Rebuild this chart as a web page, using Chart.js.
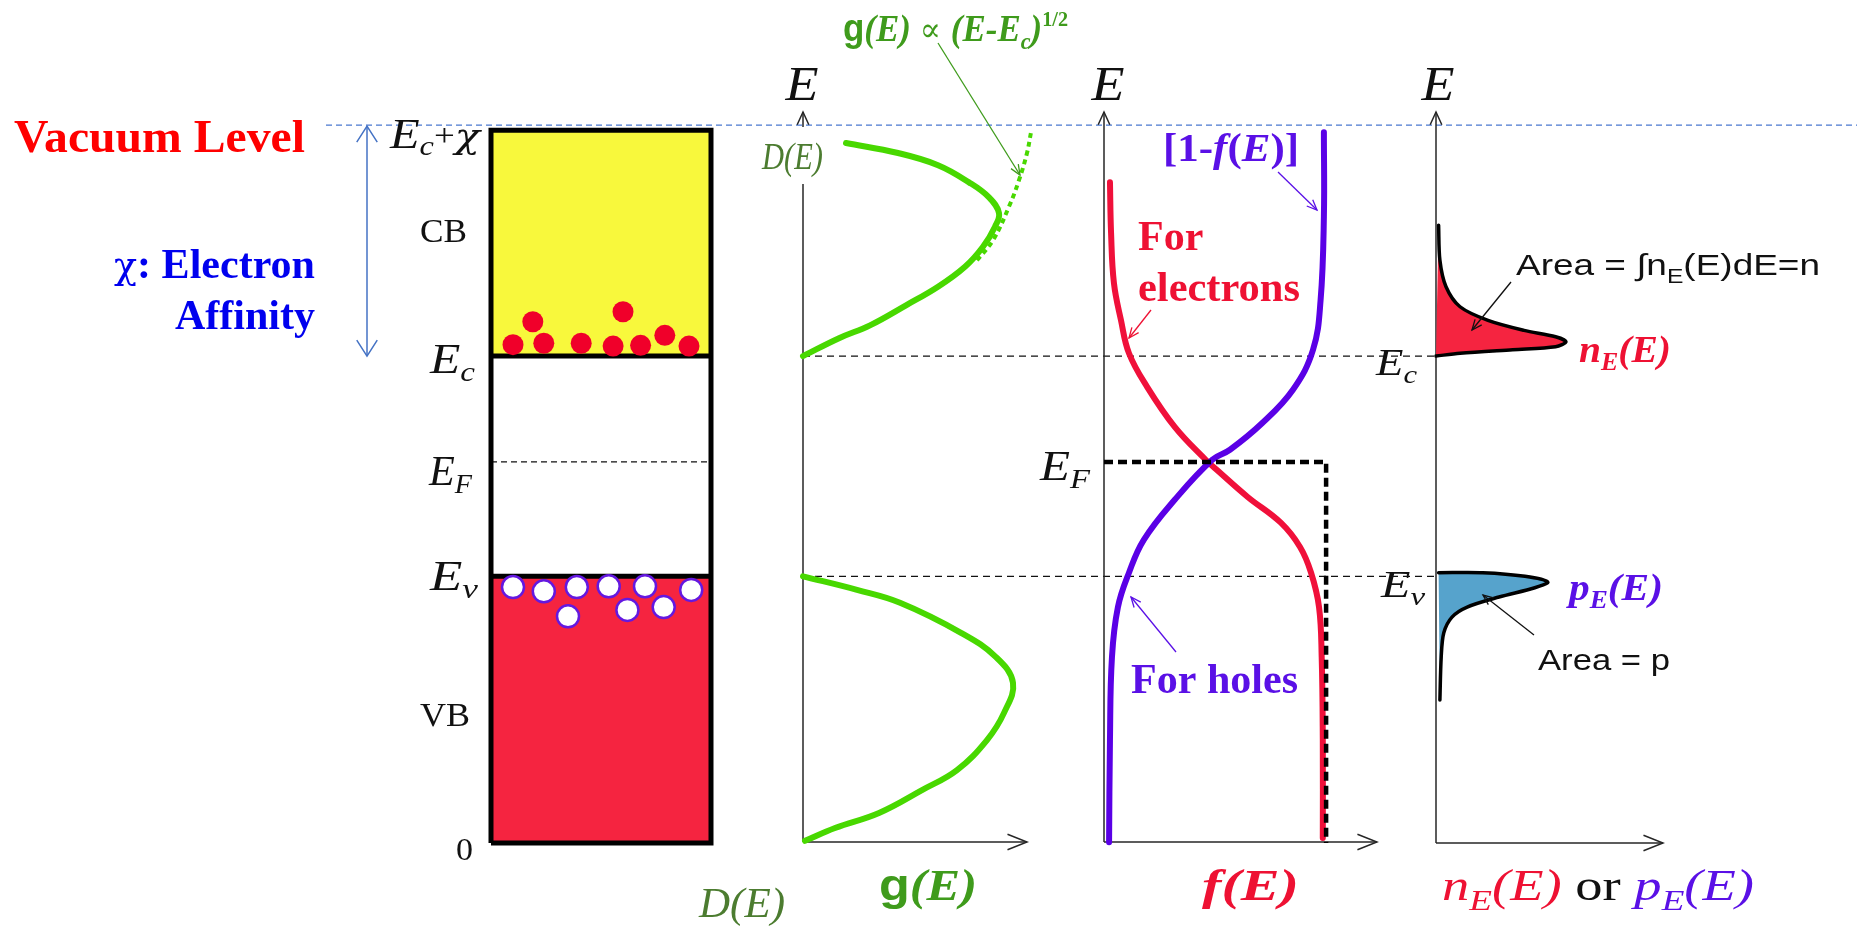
<!DOCTYPE html>
<html>
<head>
<meta charset="utf-8">
<title>Band diagram, g(E), f(E) and carrier distributions</title>
<script src="https://cdn.jsdelivr.net/npm/chart.js@4.4.1/dist/chart.umd.min.js"></script>
<style>
  html, body { margin: 0; padding: 0; background: #fff; }
  #chart { display: block; }
</style>
</head>
<body>
<canvas id="chart" width="1857" height="926"></canvas>
<script>
// energy levels (arbitrary units, 0 = bottom of the valence band)
const levelNames = ["0", "Ev", "EF", "Ec", "Ec+chi"];
const levelEnergies = [0, 3.73, 5.33, 6.81, 9.97];
const [E0, EV, EF, EC, ETOP] = levelEnergies;

// carriers drawn in the band box (x runs 0..1 across the box)
const electronX = [0.10, 0.19, 0.24, 0.41, 0.555, 0.60, 0.68, 0.79, 0.90];
const electronE = [6.97, 7.29, 6.99, 6.99, 6.95, 7.43, 6.96, 7.10, 6.95];
const holeX = [0.10, 0.24, 0.39, 0.535, 0.70, 0.91, 0.35, 0.62, 0.785];
const holeE = [3.58, 3.52, 3.58, 3.59, 3.59, 3.54, 3.17, 3.26, 3.30];

// density of states g(E)
const gCbE = [6.81, 7.06, 7.24, 7.52, 7.78, 8.06, 8.34, 8.62, 8.81, 9.03, 9.24, 9.48, 9.65, 9.79];
const gCbVal = [0, 0.18, 0.335, 0.515, 0.675, 0.81, 0.90, 0.96, 0.98, 0.93, 0.83, 0.675, 0.475, 0.215];
const gVbE = [3.73, 3.54, 3.36, 2.94, 2.60, 2.24, 1.82, 1.44, 1.02, 0.74, 0.42, 0.21, 0.03];
const gVbVal = [0, 0.27, 0.485, 0.79, 0.965, 1.05, 1.005, 0.92, 0.77, 0.595, 0.38, 0.16, 0.01];
const sqrtE = [8.15, 8.43, 8.90, 9.27, 9.65, 9.94];
const sqrtVal = [0.87, 0.95, 1.03, 1.08, 1.12, 1.14];

// Fermi function f(E) and 1-f(E)
const fE = [9.24, 8.53, 7.83, 7.31, 6.85, 6.38, 5.82, 5.36, 5.22, 4.84, 4.48, 4.14, 3.78, 3.30, 2.60, 1.44, 0.07];
const fVal = [0.027, 0.032, 0.045, 0.077, 0.113, 0.195, 0.32, 0.46, 0.51, 0.65, 0.80, 0.887, 0.937, 0.973, 0.985, 0.99, 0.99];
const hE = [9.94, 8.76, 7.59, 6.90, 6.34, 5.87, 5.50, 5.36, 4.80, 4.24, 3.78, 3.30, 2.60, 1.44, 0.01];
const hVal = [0.995, 0.995, 0.98, 0.946, 0.855, 0.715, 0.57, 0.49, 0.32, 0.18, 0.113, 0.063, 0.036, 0.027, 0.023];
const stepE = [EF, EF, 0];
const stepVal = [0, 1.005, 1.005];

// carrier distributions nE(E), pE(E)
const nE = [8.64, 8.15, 7.78, 7.50, 7.31, 7.17, 7.08, 7.01, 6.94, 6.90, 6.85, 6.81];
const nVal = [0.02, 0.03, 0.077, 0.185, 0.40, 0.677, 0.92, 1.0, 0.92, 0.59, 0.185, 0.0];
const pE = [3.78, 3.78, 3.73, 3.65, 3.57, 3.44, 3.30, 3.16, 2.94, 2.60, 2.00];
const pVal = [0.02, 0.36, 0.685, 0.86, 0.76, 0.485, 0.24, 0.123, 0.06, 0.04, 0.03];

const W = 1857, H = 926;
const BASE_Y = 843, PX_PER_E = 71.5;
const SERIF = '"Liberation Serif", "Times New Roman", serif';
const GREEK = '"DejaVu Serif", serif';
const SANS = '"Liberation Sans", Arial, sans-serif';
const RED = "#ee1133", VIOLET = "#5a10e6", GREEN = "#48d800", GTXT = "#3f9b1c", DGREEN = "#4c7c30";

function pts(xs, es) {
  return xs.map((v, i) => ({ x: v, y: es[i] }));
}
function xScale(origin, unit) {
  return { type: "linear", axis: "x", display: false, min: -origin / unit, max: (W - origin) / unit };
}

function seg(ctx, x1, y1, x2, y2) {
  ctx.beginPath();
  ctx.moveTo(x1, y1);
  ctx.lineTo(x2, y2);
  ctx.stroke();
}
// open arrow head, tip at (x,y)
function chevron(ctx, x, y, ang, len, spread) {
  ctx.beginPath();
  ctx.moveTo(x - len * Math.cos(ang - spread), y - len * Math.sin(ang - spread));
  ctx.lineTo(x, y);
  ctx.lineTo(x - len * Math.cos(ang + spread), y - len * Math.sin(ang + spread));
  ctx.stroke();
}
function pointer(ctx, x1, y1, x2, y2, color) {
  ctx.strokeStyle = color;
  ctx.lineWidth = 1.3;
  seg(ctx, x1, y1, x2, y2);
  chevron(ctx, x2, y2, Math.atan2(y2 - y1, x2 - x1), 11, 0.4);
}
function R(text, font, color, dy) {
  return { text: text, font: font, color: color, dy: dy || 0 };
}
// draws a row of text runs, optionally squeezed to a width
function drawRuns(ctx, runs, x, y, align, width) {
  let total = 0;
  runs.forEach((r) => {
    ctx.font = r.font;
    r.w = ctx.measureText(r.text).width;
    total += r.w;
  });
  const sx = width ? width / total : 1;
  let start = x;
  if (align === "right") start = x - total * sx;
  if (align === "center") start = x - (total * sx) / 2;
  ctx.save();
  ctx.translate(start, y);
  ctx.scale(sx, 1);
  ctx.textAlign = "left";
  ctx.textBaseline = "alphabetic";
  let cx = 0;
  runs.forEach((r) => {
    ctx.font = r.font;
    ctx.fillStyle = r.color;
    ctx.fillText(r.text, cx, r.dy);
    cx += r.w;
  });
  ctx.restore();
}

const decorations = {
  id: "decorations",
  beforeDatasetsDraw(chart) {
    const ctx = chart.ctx, s = chart.scales;
    const Y = (e) => s.y.getPixelForValue(e);
    const gx = s.xg.getPixelForValue(0), fx = s.xf.getPixelForValue(0), nx = s.xn.getPixelForValue(0);
    const by = Y(0) - 1;
    ctx.save();
    ctx.lineCap = "butt";
    // vacuum level
    ctx.strokeStyle = "#4a78d0";
    ctx.lineWidth = 1.3;
    ctx.setLineDash([6, 4]);
    seg(ctx, 326, Y(ETOP) - 5, W, Y(ETOP) - 5);
    // Ec and Ev guides
    ctx.strokeStyle = "#111";
    ctx.lineWidth = 1.2;
    ctx.setLineDash([7, 5]);
    [EC, EV].forEach((e) => seg(ctx, gx, Y(e), nx, Y(e)));
    ctx.setLineDash([]);
    // axes
    ctx.strokeStyle = "#262626";
    ctx.lineWidth = 1.5;
    seg(ctx, gx, 112, gx, 127);
    seg(ctx, gx, 184, gx, by);
    seg(ctx, fx, 112, fx, by);
    seg(ctx, nx, 112, nx, Y(0));
    [gx, fx, nx].forEach((x) => chevron(ctx, x, 112, -Math.PI / 2, 14, 0.43));
    const ends = [[gx, s.xg.getPixelForValue(1.12), by], [fx, s.xf.getPixelForValue(1.235), by], [nx, s.xn.getPixelForValue(1.746), Y(0)]];
    ends.forEach(([x1, x2, y]) => {
      seg(ctx, x1, y, x2, y);
      chevron(ctx, x2, y, 0, 21, 0.38);
    });
    // electron affinity arrow
    ctx.strokeStyle = "#4472c4";
    ctx.lineWidth = 1.5;
    seg(ctx, 367, Y(ETOP) - 4, 367, Y(EC));
    chevron(ctx, 367, Y(ETOP) - 4, -Math.PI / 2, 19, 0.57);
    chevron(ctx, 367, Y(EC), Math.PI / 2, 19, 0.57);
    ctx.restore();
  },
  afterDatasetsDraw(chart) {
    const ctx = chart.ctx;
    const it = (size) => "italic " + size + "px " + SERIF;
    const bi = (size) => "bold italic " + size + "px " + SERIF;
    const bd = (size) => "bold " + size + "px " + SERIF;
    const K = "#111";
    const B = "#0000ee";
    ctx.save();
    // left side
    drawRuns(ctx, [R("Vacuum Level", bd(47), "#ff0000")], 14, 152, "left", 291);
    drawRuns(ctx, [R("χ", "38px " + GREEK, B), R(": ", bd(42), B), R("E", bd(42), B), R("lectron", bd(42), B)], 315, 278, "right", 201);
    drawRuns(ctx, [R("A", bd(42), B), R("f", bd(42), B), R("f", bd(42), B), R("inity", bd(42), B)], 315, 329, "right", 140);
    drawRuns(ctx, [R("E", it(42), K), R("c", it(28), K, 7), R("+", "32px " + SERIF, K, -2), R("χ", "italic 36px " + GREEK, K)], 390, 148, "left", 90);
    drawRuns(ctx, [R("CB", "33px " + SERIF, K)], 420, 242, "left", 47);
    drawRuns(ctx, [R("E", it(42), K), R("c", it(28), K, 8)], 430, 373, "left", 45);
    drawRuns(ctx, [R("E", it(42), K), R("F", it(28), K, 8)], 429, 485, "left", 43);
    drawRuns(ctx, [R("E", it(42), K), R("v", it(28), K, 8)], 430, 590, "left", 48);
    drawRuns(ctx, [R("VB", "33px " + SERIF, K)], 420, 726, "left", 50);
    drawRuns(ctx, [R("0", "32px " + SERIF, K)], 456, 860, "left", 17);
    // axis names
    [802, 1108, 1438].forEach((x) => drawRuns(ctx, [R("E", it(48), K)], x, 100, "center", 33));
    // g(E) panel
    drawRuns(ctx, [R("D(E)", it(38), DGREEN)], 762, 169, "left", 61);
    drawRuns(ctx, [R("g", "bold 38px " + SANS, GTXT), R("(E) ", bi(38), GTXT), R("∝ ", "34px " + GREEK, GTXT),
      R("(E-E", bi(38), GTXT), R("c", bi(24), GTXT, 8), R(")", bi(38), GTXT), R("1/2", bd(22), GTXT, -15)], 843, 41, "left", 225);
    pointer(ctx, 938, 43, 1020, 175, "#3f9b1c");
    // f(E) panel
    drawRuns(ctx, [R("[1-", bd(40), VIOLET), R("f", bi(40), VIOLET), R("(", bd(40), VIOLET),
      R("E", bi(40), VIOLET), R(")]", bd(40), VIOLET)], 1163, 161, "left", 136);
    pointer(ctx, 1278, 172, 1317, 210, VIOLET);
    drawRuns(ctx, [R("For", bd(42), RED)], 1138, 250, "left");
    drawRuns(ctx, [R("electrons", bd(42), RED)], 1138, 301, "left", 162);
    pointer(ctx, 1151, 310, 1129, 338, RED);
    drawRuns(ctx, [R("For holes", bd(42), VIOLET)], 1131, 693, "left", 167);
    pointer(ctx, 1176, 652, 1131, 597, VIOLET);
    drawRuns(ctx, [R("E", it(42), K), R("F", it(28), K, 8)], 1040, 480, "left", 50);
    drawRuns(ctx, [R("E", it(38), K), R("c", it(26), K, 8)], 1376, 375, "left", 41);
    drawRuns(ctx, [R("E", it(38), K), R("v", it(26), K, 8)], 1381, 597, "left", 44);
    // carrier panel
    drawRuns(ctx, [R("Area = ∫n", "30px " + SANS, K), R("E", "20px " + SANS, K, 8), R("(E)dE=n", "30px " + SANS, K)], 1516, 275, "left", 304);
    pointer(ctx, 1511, 282, 1472, 330, K);
    drawRuns(ctx, [R("n", bi(38), RED), R("E", bi(25), RED, 8), R("(E)", bi(38), RED)], 1579, 362, "left", 92);
    drawRuns(ctx, [R("p", bi(38), VIOLET), R("E", bi(25), VIOLET, 8), R("(E)", bi(38), VIOLET)], 1569, 600, "left", 94);
    drawRuns(ctx, [R("Area = p", "30px " + SANS, K)], 1538, 670, "left", 132);
    pointer(ctx, 1534, 635, 1483, 595, K);
    // bottom labels
    drawRuns(ctx, [R("D(E)", it(42), DGREEN)], 699, 917, "left", 86);
    drawRuns(ctx, [R("g", "bold 44px " + SANS, GTXT), R("(E)", bi(44), GTXT)], 879, 900, "left", 98);
    drawRuns(ctx, [R("f", bi(44), RED), R("(E)", bi(44), RED)], 1202, 900, "left", 97);
    drawRuns(ctx, [R("n", it(44), RED), R("E", it(30), RED, 10), R("(E)", it(44), RED), R(" or ", "44px " + SERIF, K),
      R("p", it(44), VIOLET), R("E", it(30), VIOLET, 10), R("(E)", it(44), VIOLET)], 1442, 900, "left", 312);
    ctx.restore();
  }
};

const curve = { showLine: true, pointRadius: 0, borderCapStyle: "round", borderJoinStyle: "round", tension: 0.4, fill: false };

const datasets = [
  // band box
  { label: "CB", xAxisID: "x", data: pts([0, 1], [ETOP, ETOP]), showLine: true, pointRadius: 0, borderWidth: 0,
    backgroundColor: "#f8f83c", fill: { value: EC }, order: 20 },
  { label: "VB", xAxisID: "x", data: pts([0, 1], [EV, EV]), showLine: true, pointRadius: 0, borderWidth: 0,
    backgroundColor: "#f52440", fill: { value: E0 }, order: 19 },
  { label: "EF", xAxisID: "x", data: pts([0, 1], [EF, EF]), showLine: true, pointRadius: 0, borderWidth: 1.3,
    borderColor: "#111", borderDash: [6, 4], fill: false, order: 18 },
  { label: "box", xAxisID: "x", data: pts([0, 1, 1, 0, 0], [E0, E0, ETOP, ETOP, E0]), showLine: true, pointRadius: 0,
    borderWidth: 5, borderColor: "#000", borderJoinStyle: "miter", fill: false, order: 17 },
  { label: "Ec", xAxisID: "x", data: pts([0, 1], [EC, EC]), showLine: true, pointRadius: 0, borderWidth: 5, borderColor: "#000", fill: false, order: 16 },
  { label: "Ev", xAxisID: "x", data: pts([0, 1], [EV, EV]), showLine: true, pointRadius: 0, borderWidth: 5, borderColor: "#000", fill: false, order: 16 },
  { label: "electrons", xAxisID: "x", data: pts(electronX, electronE), showLine: false, pointRadius: 10.5,
    pointBackgroundColor: "#f0002a", pointBorderWidth: 0, order: 5 },
  { label: "holes", xAxisID: "x", data: pts(holeX, holeE), showLine: false, pointRadius: 11,
    pointBackgroundColor: "#ffffff", pointBorderColor: "#6418e0", pointBorderWidth: 2.5, order: 5 },
  // g(E)
  Object.assign({ label: "g CB", xAxisID: "xg", data: pts(gCbVal, gCbE), borderColor: GREEN, borderWidth: 6, order: 8 }, curve),
  Object.assign({ label: "g VB", xAxisID: "xg", data: pts(gVbVal, gVbE), borderColor: GREEN, borderWidth: 6, order: 8 }, curve),
  Object.assign({ label: "sqrt", xAxisID: "xg", data: pts(sqrtVal, sqrtE), borderColor: GREEN, borderWidth: 4, order: 9 }, curve,
    { borderDash: [5, 4], borderCapStyle: "butt" }),
  // f(E)
  Object.assign({ label: "f", xAxisID: "xf", data: pts(fVal, fE), borderColor: "#f0103a", borderWidth: 6, order: 8 }, curve),
  Object.assign({ label: "1-f", xAxisID: "xf", data: pts(hVal, hE), borderColor: "#5a00e6", borderWidth: 6, order: 7 }, curve),
  { label: "step", xAxisID: "xf", data: pts(stepVal, stepE), showLine: true, pointRadius: 0, borderWidth: 4.5,
    borderColor: "#000", borderDash: [9, 5], fill: false, tension: 0, order: 6 },
  // nE, pE
  Object.assign({ label: "nE", xAxisID: "xn", data: pts(nVal, nE), borderColor: "#000", borderWidth: 3.5,
    order: 4 }, curve, { tension: 0.3, fill: "shape", backgroundColor: "#f52440" }),
  Object.assign({ label: "pE", xAxisID: "xn", data: pts(pVal, pE), borderColor: "#000", borderWidth: 3.5,
    order: 4 }, curve, { tension: 0.3, fill: "shape", backgroundColor: "#56a3cc" })
];

new Chart(document.getElementById("chart"), {
  type: "line",
  data: { datasets: datasets },
  options: {
    responsive: false,
    animation: false,
    events: [],
    layout: { padding: 0, autoPadding: false },
    plugins: { legend: { display: false }, tooltip: { enabled: false }, title: { display: false } },
    scales: {
      x: xScale(491, 220),
      xg: xScale(803, 200),
      xf: xScale(1104, 221),
      xn: xScale(1436, 130),
      y: { type: "linear", display: false, min: -(H - BASE_Y) / PX_PER_E, max: BASE_Y / PX_PER_E }
    }
  },
  plugins: [decorations]
});
</script>
</body>
</html>
